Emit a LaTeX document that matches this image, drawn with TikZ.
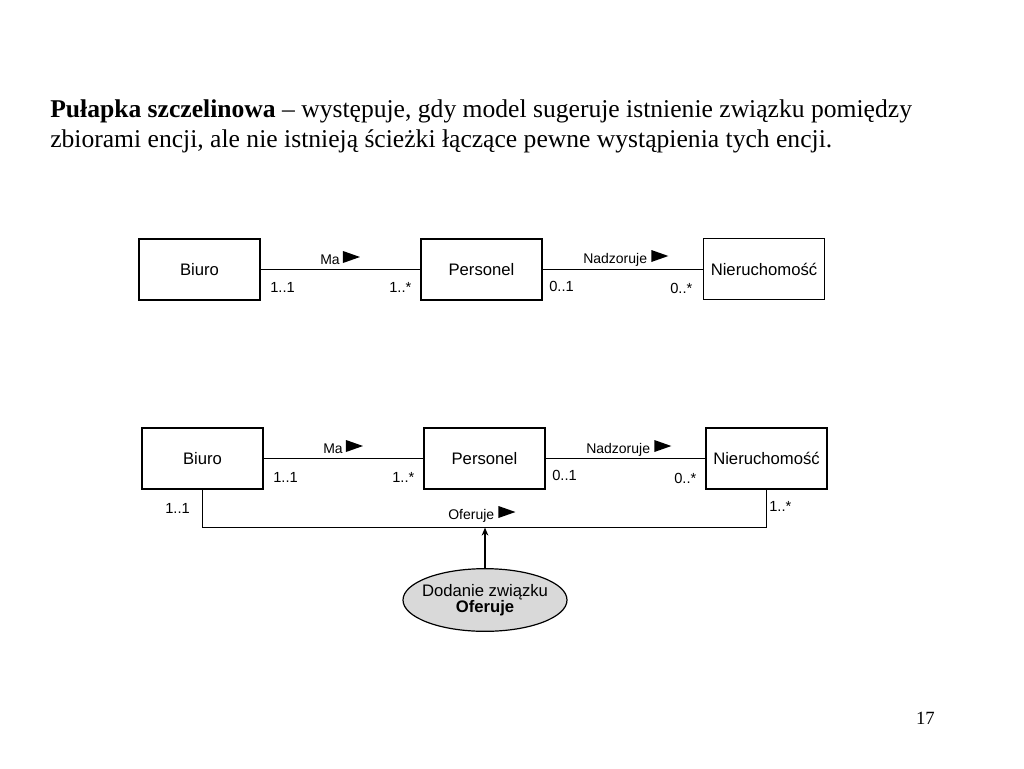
\documentclass[tikz,border=0pt]{standalone}
\usepackage{fontspec}
\setmainfont{Liberation Serif}
\setsansfont{Liberation Sans}
\usetikzlibrary{positioning, arrows.meta, shapes.geometric}

\tikzset{
    encja/.style={draw, line width=0.9pt, minimum width=90.75pt, minimum height=45.75pt,
        inner sep=0pt, font=\sffamily\fontsize{12.5}{14}\selectfont},
    zwiazek/.style={inner sep=0pt, anchor=base west, font=\sffamily\fontsize{10.5}{12}\selectfont},
    krotnosc/.style={inner sep=0pt, anchor=base west, font=\sffamily\fontsize{11}{13}\selectfont},
    linia/.style={line width=0.9pt},
    grot/.pic={\fill (0,-6) -- (0,6) -- (17,0) -- cycle;}
}

\begin{document}
\begin{tikzpicture}[x=0.75pt, y=-0.75pt]
    \useasboundingbox (0,0) rectangle (1024,768);

    % naglowek
    \node[inner sep=0pt, anchor=base west, font=\fontsize{19.2}{22}\selectfont] (tytul1) at (50,117)
        {\textbf{Pułapka szczelinowa} – występuje, gdy model sugeruje istnienie związku pomiędzy};
    \node[inner sep=0pt, anchor=base west, font=\fontsize{19.2}{22}\selectfont] (tytul2) at (50,147)
        {zbiorami encji, ale nie istnieją ścieżki łączące pewne wystąpienia tych encji.};

    % gorny diagram
    \node[encja] (biuro1) at (199.5,269.5) {Biuro};
    \node[encja] (personel1) at (481.5,269.5) {Personel};
    \node[encja] (nier1) at (764,269) {Nieruchomość};
    \draw[linia] (biuro1) -- (personel1);
    \draw[linia] (personel1) -- (personel1 -| nier1.west);

    \node[zwiazek] (ma1) at (320,264) {Ma};
    \pic at ([shift={(3,-7)}]ma1.base east) {grot};
    \node[zwiazek] (nadz1) at (583,263) {Nadzoruje};
    \pic at ([shift={(4,-7)}]nadz1.base east) {grot};

    \node[krotnosc] (k11) at (270,292) {1..1};
    \node[krotnosc] (k12) at (389,292) {1..*};
    \node[krotnosc] (k13) at (549,291) {0..1};
    \node[krotnosc] (k14) at (670,293) {0..*};

    % dolny diagram
    \node[encja] (biuro2) at (202.5,458.5) {Biuro};
    \node[encja] (personel2) at (484.5,458.5) {Personel};
    \node[encja] (nier2) at (766.5,458.5) {Nieruchomość};
    \draw[linia] (biuro2) -- (personel2);
    \draw[linia] (personel2) -- (nier2);
    \draw[linia] (biuro2.south) -- ++(0,38) coordinate (dol) -| (nier2.south);

    \node[zwiazek] (ma2) at (323,453) {Ma};
    \pic at ([shift={(3,-7)}]ma2.base east) {grot};
    \node[zwiazek] (nadz2) at (586,453) {Nadzoruje};
    \pic at ([shift={(4,-7)}]nadz2.base east) {grot};
    \node[zwiazek] (ofer) at (448,519) {Oferuje};
    \pic at ([shift={(4,-7)}]ofer.base east) {grot};

    \node[krotnosc] (k21) at (273,482) {1..1};
    \node[krotnosc] (k22) at (392,482) {1..*};
    \node[krotnosc] (k23) at (552,480) {0..1};
    \node[krotnosc] (k24) at (674,483) {0..*};
    \node[krotnosc] (k25) at (165,513) {1..1};
    \node[krotnosc] (k26) at (769,511) {1..*};

    % nowy zwiazek
    \node[ellipse, draw, line width=0.9pt, fill=black!15, minimum width=123pt, minimum height=47pt,
        inner xsep=-4.5pt, inner ysep=0pt, align=center, font=\sffamily\fontsize{12.5}{12}\selectfont] (dodanie) at (485,600)
        {Dodanie związku\\\textbf{Oferuje}};
    \draw[linia, -{Stealth[length=6pt, width=5pt]}] (dodanie.north) -- (dodanie.north |- dol);

    \node[inner sep=0pt, anchor=base east, font=\fontsize{14}{16}\selectfont] (strona) at (935,724) {17};
\end{tikzpicture}
\end{document}
